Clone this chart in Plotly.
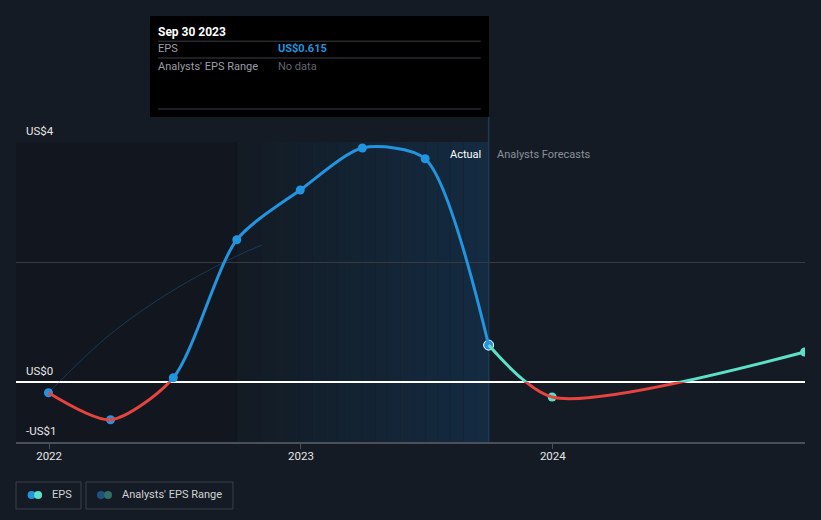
import pandas as pd
import plotly.graph_objects as go

# reported EPS, quarter ends
actual_dates = ["2021-12-31", "2022-03-31", "2022-06-30", "2022-09-30",
                "2022-12-31", "2023-03-31", "2023-06-30", "2023-09-30"]
actual_eps = [-0.18, -0.63, 0.07, 2.37, 3.2, 3.9, 3.72, 0.615]

# analyst forecasts (starts at the last reported value)
forecast_dates = ["2023-09-30", "2023-12-31", "2024-12-31"]
forecast_eps = [0.615, -0.25, 0.5]

# faint old estimate line
past_est_dates = ["2021-12-31", "2022-03-31", "2022-06-30", "2022-09-30", "2022-11-05"]
past_est_eps = [-0.18, 0.8, 1.53, 2.1, 2.28]

year_ticks = ["2022-01-01", "2023-01-01", "2024-01-01"]
year_labels = ["2022", "2023", "2024"]
y_label_vals = [4, 0, -1]
y_label_text = ["US$4", "US$0", "-US$1"]

x_range = ["2021-11-14", "2024-12-31 12:00"]
past_start = "2022-09-30"
last_actual = "2023-09-30"

BG = "#151b24"
BLUE = "#2394df"
TEAL = "#5ce0c8"
RED = "#e5443f"
FONT = "Roboto"
SMOOTH = 0.75

fig = go.Figure()

# faint estimate line
fig.add_trace(go.Scatter(x=past_est_dates, y=past_est_eps, mode="lines",
                         line=dict(color="rgba(35,148,223,0.28)", width=1, shape="spline"),
                         hoverinfo="skip", showlegend=False))

# lines: red part drawn on y3 (below zero only), blue/teal on y2 (above zero only)
fig.add_trace(go.Scatter(x=actual_dates, y=actual_eps, mode="lines", yaxis="y3",
                         line=dict(color=RED, width=3, shape="spline", smoothing=SMOOTH),
                         showlegend=False))
fig.add_trace(go.Scatter(x=actual_dates, y=actual_eps, mode="lines", yaxis="y2",
                         line=dict(color=BLUE, width=3, shape="spline", smoothing=SMOOTH),
                         showlegend=False))
fig.add_trace(go.Scatter(x=forecast_dates, y=forecast_eps, mode="lines", yaxis="y3",
                         line=dict(color=RED, width=3, shape="spline", smoothing=SMOOTH),
                         showlegend=False))
fig.add_trace(go.Scatter(x=forecast_dates, y=forecast_eps, mode="lines", yaxis="y2",
                         line=dict(color=TEAL, width=3, shape="spline", smoothing=SMOOTH),
                         showlegend=False))

# markers
fig.add_trace(go.Scatter(x=actual_dates[:-1], y=actual_eps[:-1], mode="markers",
                         marker=dict(color=BLUE, size=9), showlegend=False))
fig.add_trace(go.Scatter(x=forecast_dates[1:], y=forecast_eps[1:], mode="markers",
                         marker=dict(color=TEAL, size=9), showlegend=False))
fig.add_trace(go.Scatter(x=actual_dates[-1:], y=actual_eps[-1:], mode="markers",
                         marker=dict(color=BLUE, size=10, line=dict(color="white", width=1)),
                         showlegend=False))

shapes = []
# darker area before the highlighted year
shapes.append(dict(type="rect", xref="x", yref="paper", x0=x_range[0], x1=past_start,
                   y0=0, y1=1, fillcolor="#12161e", line_width=0, layer="below"))
# blue gradient for the last reported year, built from strips
edges = pd.date_range(past_start, last_actual, periods=21)
c0 = (19, 27, 37)
c1 = (20, 43, 65)
for i in range(20):
    t = i / 19
    col = tuple(round(a + (b - a) * t) for a, b in zip(c0, c1))
    shapes.append(dict(type="rect", xref="x", yref="paper", x0=edges[i], x1=edges[i + 1],
                       y0=0, y1=1, fillcolor="rgb(%d,%d,%d)" % col, line_width=0, layer="below"))
# hover line
shapes.append(dict(type="line", xref="x", yref="paper", x0=last_actual, x1=last_actual,
                   y0=0, y1=1.083, line=dict(color="#1e3a55", width=1.5), layer="below"))

# tooltip box
shapes.append(dict(type="rect", xref="paper", yref="paper", x0=0.1698, x1=0.5995,
                   y0=1.0833, y1=1.42, fillcolor="#000000", line_width=0))
for yy in [1.336, 1.28, 1.11]:
    shapes.append(dict(type="line", xref="paper", yref="paper", x0=0.18, x1=0.589,
                       y0=yy, y1=yy, line=dict(color="#3c3f44", width=1)))

# legend boxes
shapes.append(dict(type="rect", xref="paper", yref="paper", x0=0.0, x1=0.0824,
                   y0=-0.2233, y1=-0.1333, line=dict(color="#3a404a", width=1)))
shapes.append(dict(type="rect", xref="paper", yref="paper", x0=0.0887, x1=0.2750,
                   y0=-0.2233, y1=-0.1333, line=dict(color="#3a404a", width=1)))
for xa, col in [(0.0198, BLUE), (0.0280, TEAL), (0.1077, "#1d527f"), (0.1166, "#2e6f68")]:
    shapes.append(dict(type="circle", xref="paper", yref="paper", xsizemode="pixel",
                       ysizemode="pixel", xanchor=xa, yanchor=-0.1766,
                       x0=-4, x1=4, y0=-4, y1=4, fillcolor=col, line_width=0))

annotations = []
for v, t in zip(y_label_vals, y_label_text):
    annotations.append(dict(x=0, xref="paper", y=v, yref="y", text=t, showarrow=False,
                            xanchor="left", yanchor="bottom", xshift=8, yshift=2,
                            font=dict(family=FONT, size=11.5, color="#e6e6e6")))
annotations.append(dict(x=last_actual, xref="x", y=0.96, yref="paper", text="Actual",
                        showarrow=False, xanchor="right", yanchor="middle", xshift=-6,
                        font=dict(family=FONT, size=11, color="#ffffff")))
annotations.append(dict(x=last_actual, xref="x", y=0.96, yref="paper", text="Analysts Forecasts",
                        showarrow=False, xanchor="left", yanchor="middle", xshift=6,
                        font=dict(family=FONT, size=11, color="#8b9098")))


def label(x, y, text, size, color):
    annotations.append(dict(x=x, xref="paper", y=y, yref="paper", text=text, showarrow=False,
                            xanchor="left", yanchor="middle",
                            font=dict(family=FONT, size=size, color=color)))


# tooltip text
label(0.1775, 1.367, "<b>Sep 30 2023</b>", 12, "#ffffff")
label(0.1775, 1.31, "EPS", 11, "#9a9ea5")
label(0.3295, 1.31, "<b>US$0.615</b>", 11, BLUE)
label(0.1775, 1.253, "Analysts' EPS Range", 11, "#9a9ea5")
label(0.3295, 1.253, "No data", 11, "#62666c")

# legend text
label(0.043, -0.1766, "EPS", 11, "#d0d2d6")
label(0.1318, -0.1766, "Analysts' EPS Range", 11, "#d0d2d6")

fig.update_layout(
    width=821, height=520,
    margin=dict(l=16, r=16, t=142, b=78),
    paper_bgcolor=BG, plot_bgcolor="rgba(0,0,0,0)",
    hovermode=False, showlegend=False,
    font=dict(family=FONT, color="#e6e6e6"),
    shapes=shapes, annotations=annotations,
    xaxis=dict(type="date", range=x_range, tickvals=year_ticks, ticktext=year_labels,
               showgrid=False, zeroline=False, showline=True, linecolor="#4a4f58", linewidth=1.5,
               ticks="outside", ticklen=5, tickcolor="#4a4f58", tickwidth=1,
               ticklabelstandoff=-3,
               tickfont=dict(family=FONT, size=11.5, color="#e6e6e6"), fixedrange=True),
    yaxis=dict(range=[-1, 4], domain=[0, 1], tickvals=[2, 4], showticklabels=False,
               showgrid=True, gridcolor="#363b43", gridwidth=1,
               zeroline=True, zerolinecolor="#ffffff", zerolinewidth=1.5, fixedrange=True),
    yaxis2=dict(range=[0, 4], domain=[0.2, 1], anchor="x", showgrid=False, zeroline=False,
                showticklabels=False, fixedrange=True),
    yaxis3=dict(range=[-1, 0], domain=[0, 0.2], anchor="x", showgrid=False, zeroline=False,
                showticklabels=False, fixedrange=True),
)

# page has a default 8px body margin; remove it so the chart fills the window
fig.write_html("out.html", config={"displayModeBar": False},
               post_script="document.body.style.margin='0';"
                           "document.body.style.background='%s';" % BG)
